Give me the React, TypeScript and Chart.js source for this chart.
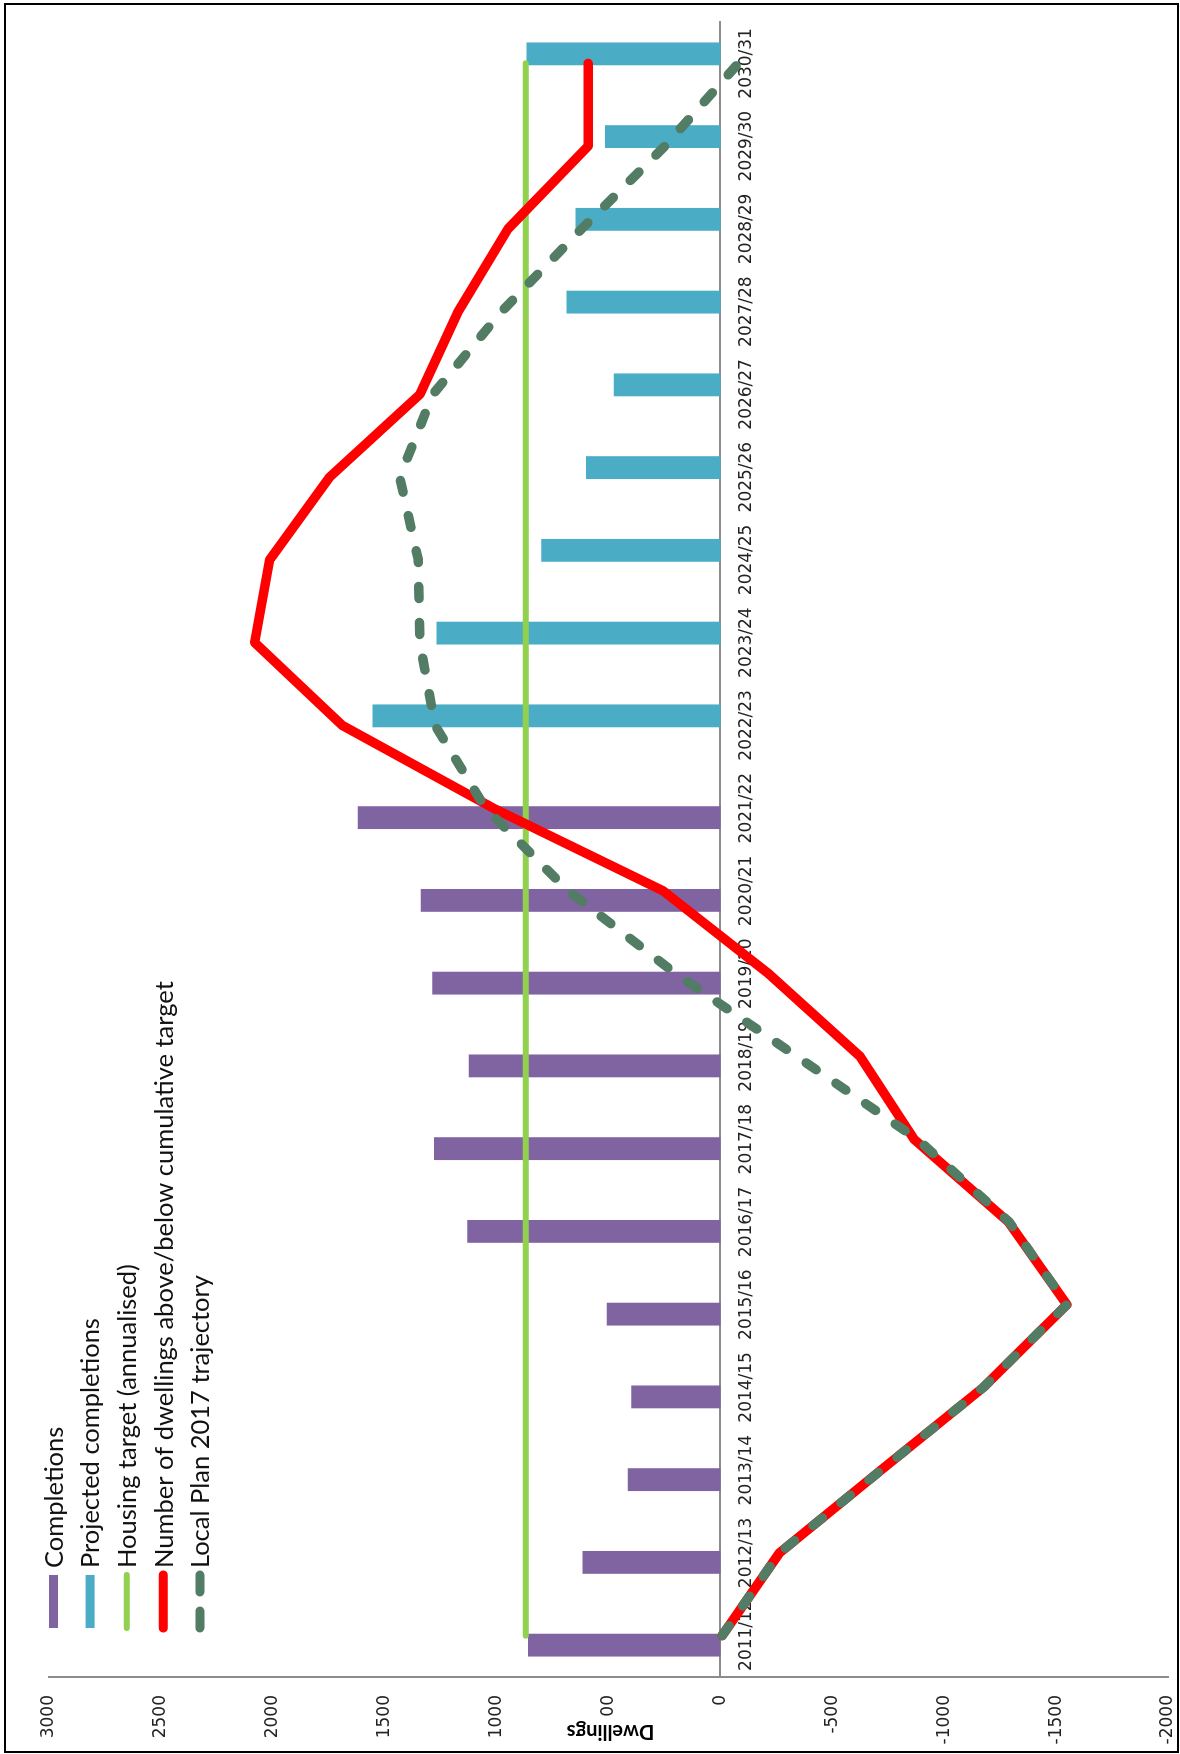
import React, { useEffect, useRef } from 'react';
import { Chart, registerables } from 'chart.js';

Chart.register(...registerables);

// ---------- data ----------
const categories = [
  '2011/12', '2012/13', '2013/14', '2014/15', '2015/16', '2016/17', '2017/18',
  '2018/19', '2019/20', '2020/21', '2021/22', '2022/23', '2023/24', '2024/25',
  '2025/26', '2026/27', '2027/28', '2028/29', '2029/30', '2030/31',
];

const completions = [
  860, 616, 414, 398, 508, 1131, 1280, 1125, 1287, 1339, 1620,
  null, null, null, null, null, null, null, null, null,
];

const projectedCompletions = [
  null, null, null, null, null, null, null, null, null, null, null,
  1555, 1269, 800, 601, 477, 688, 647, 516, 866,
];

const housingTarget = [
  870, 870, 870, 870, 870, 870, 870, 870, 870, 870,
  870, 870, 870, 870, 870, 870, 870, 870, 870, 870,
];

const dwellingsVsTarget = [
  -8, -264, -718, -1175, -1548, -1287, -865, -624, -215, 256,
  1015, 1690, 2081, 2014, 1746, 1343, 1172, 949, 591, 591,
];

const localPlan2017 = [
  -8, -264, -718, -1175, -1548, -1290, -880, -341, 200, 680,
  1050, 1275, 1343, 1350, 1433, 1285, 978, 620, 248, -80,
];

const valueMin = -2000;
const valueMax = 3000;
const valueStep = 500;

const seriesLabels = [
  'Completions',
  'Projected completions',
  'Housing target (annualised)',
  'Number of dwellings above/below cumulative target',
  'Local Plan 2017 trajectory',
];
const axisTitle = 'Dwellings';

// ---------- styles ----------
const PURPLE = '#8064A2';
const BLUE = '#4BACC6';
const LIGHT_GREEN = '#92D050';
const RED = '#FF0000';
const DARK_GREEN = '#527C64';
const AXIS_GREY = '#8c8c8c';
const TEXT = '#222222';

// chart is drawn in landscape and turned a quarter-turn anticlockwise
const CW = 1754;
const CH = 1180;

const overlayPlugin = {
  id: 'overlay',
  afterDraw(chart: any) {
    const ctx = chart.ctx;
    const yScale = chart.scales.y;
    ctx.save();
    // legend
    const kinds = ['box', 'box', 'line', 'line', 'dash'];
    const colors = [PURPLE, BLUE, LIGHT_GREEN, RED, DARK_GREEN];
    const widths = [9, 9, 6, 9, 9];
    const mx0 = 126;
    const mx1 = 179;
    const tx = 186;
    for (let i = 0; i < seriesLabels.length; i++) {
      const y = 53.5 + i * 36.6;
      ctx.lineCap = 'round';
      if (kinds[i] === 'box') {
        ctx.fillStyle = colors[i];
        ctx.fillRect(mx0, y - widths[i] / 2, mx1 - mx0, widths[i]);
      } else if (kinds[i] === 'line') {
        ctx.strokeStyle = colors[i];
        ctx.lineWidth = widths[i];
        ctx.beginPath();
        ctx.moveTo(mx0, y);
        ctx.lineTo(mx1, y);
        ctx.stroke();
      } else {
        ctx.strokeStyle = colors[i];
        ctx.lineWidth = widths[i];
        ctx.beginPath();
        ctx.moveTo(mx0, y);
        ctx.lineTo(mx0 + 17, y);
        ctx.moveTo(mx1 - 17, y);
        ctx.lineTo(mx1, y);
        ctx.stroke();
      }
      ctx.fillStyle = '#111111';
      ctx.font = '25.5px Lato';
      ctx.textAlign = 'left';
      ctx.textBaseline = 'middle';
      ctx.fillText(seriesLabels[i], tx, y + 1);
    }
    // axis title (overlapping the tick labels, as in the reference)
    const cy = yScale.getPixelForValue(500) + 2;
    ctx.translate(23, cy);
    ctx.rotate(-Math.PI / 2);
    ctx.fillStyle = '#ffffff';
    ctx.fillRect(-55, -14, 110, 28);
    ctx.fillStyle = '#000000';
    ctx.font = 'bold 20px Lato';
    ctx.textAlign = 'center';
    ctx.textBaseline = 'middle';
    ctx.fillText(axisTitle, 0, 0);
    ctx.restore();
  },
};

export default function App() {
  const canvasRef = useRef<HTMLCanvasElement | null>(null);

  useEffect(() => {
    let chart: Chart | null = null;
    let cancelled = false;
    const make = () => {
      if (cancelled || !canvasRef.current) return;
      chart = new Chart(canvasRef.current, {
        type: 'bar',
        data: {
          labels: categories,
          datasets: [
            {
              type: 'bar',
              label: seriesLabels[0],
              data: completions,
              backgroundColor: PURPLE,
              categoryPercentage: 0.46,
              barPercentage: 1.2,
              order: 4,
            },
            {
              type: 'bar',
              label: seriesLabels[1],
              data: projectedCompletions,
              backgroundColor: BLUE,
              categoryPercentage: 0.46,
              barPercentage: 1.2,
              order: 5,
            },
            {
              type: 'line',
              label: seriesLabels[2],
              data: housingTarget,
              borderColor: LIGHT_GREEN,
              backgroundColor: LIGHT_GREEN,
              borderWidth: 6,
              borderCapStyle: 'round',
              pointRadius: 0,
              tension: 0,
              fill: false,
              order: 3,
            },
            {
              type: 'line',
              label: seriesLabels[3],
              data: dwellingsVsTarget,
              borderColor: RED,
              backgroundColor: RED,
              borderWidth: 9.5,
              borderCapStyle: 'round',
              borderJoinStyle: 'round',
              pointRadius: 0,
              tension: 0,
              fill: false,
              order: 2,
            },
            {
              type: 'line',
              label: seriesLabels[4],
              data: localPlan2017,
              borderColor: DARK_GREEN,
              backgroundColor: DARK_GREEN,
              borderWidth: 9.5,
              borderDash: [12, 24],
              borderCapStyle: 'round',
              borderJoinStyle: 'round',
              pointRadius: 0,
              tension: 0,
              fill: false,
              order: 1,
            },
          ],
        } as any,
        options: {
          responsive: false,
          maintainAspectRatio: false,
          animation: false,
          devicePixelRatio: 1,
          layout: { padding: { top: 49, bottom: 12, left: 0, right: 22 } },
          plugins: {
            legend: { display: false },
            tooltip: { enabled: false },
            title: { display: false },
          },
          scales: {
            x: {
              type: 'category',
              position: { y: 0 } as any,
              offset: true,
              grid: { display: false, drawTicks: false },
              border: { display: true, color: AXIS_GREY, width: 2 },
              ticks: {
                autoSkip: false,
                maxRotation: 0,
                minRotation: 0,
                padding: 16,
                color: TEXT,
                font: { family: 'DejaVu Sans', size: 17 },
              },
            },
            y: {
              type: 'linear',
              min: valueMin,
              max: valueMax,
              grid: { display: false, drawTicks: false },
              border: { display: true, color: AXIS_GREY, width: 2 },
              ticks: {
                stepSize: valueStep,
                padding: 18,
                color: TEXT,
                font: { family: 'DejaVu Sans', size: 17 },
                callback: (v: any) => String(v),
              },
              afterFit: (s: any) => {
                s.width = 77;
                s.paddingTop = 0;
                s.paddingBottom = 0;
              },
            },
          },
        } as any,
        plugins: [overlayPlugin],
      });
    };
    const fontsApi: any = (document as any).fonts;
    if (fontsApi && fontsApi.load) {
      Promise.all([
        fontsApi.load('25.5px Lato'),
        fontsApi.load('bold 20px Lato'),
        fontsApi.load('17px "DejaVu Sans"'),
      ])
        .catch(() => undefined)
        .then(make);
    } else {
      make();
    }
    return () => {
      cancelled = true;
      if (chart) chart.destroy();
    };
  }, []);

  return (
    <div
      style={{
        position: 'absolute',
        left: 0,
        top: 0,
        width: CH,
        height: CW,
        overflow: 'hidden',
        background: '#ffffff',
      }}
    >
      <canvas
        ref={canvasRef}
        width={CW}
        height={CH}
        style={{
          position: 'absolute',
          left: 0,
          top: 0,
          width: CW,
          height: CH,
          transformOrigin: '0 0',
          transform: `translate(0px, ${CW}px) rotate(-90deg)`,
        }}
      />
      <div
        style={{
          position: 'absolute',
          left: 4,
          top: 3,
          width: 1175,
          height: 1750,
          border: '2px solid #000',
          boxSizing: 'border-box',
          pointerEvents: 'none',
        }}
      />
    </div>
  );
}
